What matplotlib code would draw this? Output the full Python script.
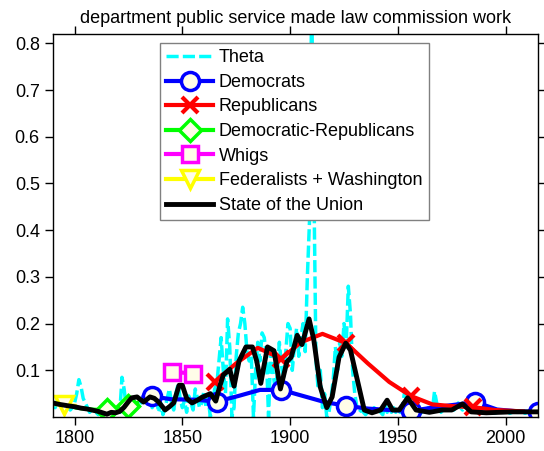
import numpy as np
import matplotlib
matplotlib.use('Agg')
import matplotlib.pyplot as plt

plt.rcParams['font.family'] = ['Liberation Sans', 'DejaVu Sans']

# Theta: yearly values 1790-2015
theta_years = list(range(1790, 2016))
theta = [
    0.03, 0.02, 0.04, 0.035, 0.02, 0.025, 0.03, 0.02, 0.015, 0.02,      # 1790s
    0.03, 0.05, 0.08, 0.065, 0.04, 0.03, 0.02, 0.01, 0.015, 0.01,       # 1800s
    0.01, 0.005, 0.01, 0.015, 0.008, 0.012, 0.01, 0.005, 0.01, 0.015,   # 1810s
    0.02, 0.01, 0.085, 0.06, 0.02, 0.035, 0.03, 0.04, 0.03, 0.035,      # 1820s
    0.04, 0.03, 0.045, 0.05, 0.035, 0.045, 0.02, 0.03, 0.04, 0.01,      # 1830s
    0.03, 0.005, 0.02, 0.04, 0.06, 0.03, 0.015, 0.05, 0.07, 0.04,       # 1840s
    0.02, 0.035, 0.01, 0.045, 0.03, 0.015, 0.06, 0.04, 0.02, 0.03,      # 1850s
    0.055, 0.02, 0.04, 0.0, 0.03, 0.06, 0.07, 0.12, 0.17, 0.1,          # 1860s
    0.05, 0.21, 0.15, 0.0, 0.02, 0.13, 0.18, 0.2, 0.235, 0.2,           # 1870s
    0.14, 0.12, 0.13, 0.0, 0.1, 0.16, 0.12, 0.18, 0.17, 0.13,           # 1880s
    0.0, 0.14, 0.1, 0.06, 0.09, 0.16, 0.11, 0.08, 0.14, 0.2,            # 1890s
    0.19, 0.1, 0.15, 0.19, 0.13, 0.17, 0.2, 0.14, 0.3, 0.42,            # 1900s
    0.9, 0.5, 0.12, 0.06, 0.1, 0.02, 0.05, 0.0, 0.01, 0.04,             # 1910s
    0.08, 0.15, 0.1, 0.16, 0.13, 0.2, 0.15, 0.28, 0.22, 0.1,            # 1920s
    0.05, 0.02, 0.01, 0.015, 0.01, 0.005, 0.01, 0.015, 0.01, 0.02,      # 1930s
    0.01, 0.015, 0.01, 0.005, 0.03, 0.01, 0.015, 0.01, 0.02, 0.01,      # 1940s
    0.015, 0.01, 0.02, 0.05, 0.04, 0.015, 0.01, 0.01, 0.015, 0.01,      # 1950s
    0.005, 0.01, 0.015, 0.01, 0.02, 0.01, 0.015, 0.055, 0.03, 0.02,     # 1960s
    0.01, 0.015, 0.02, 0.01, 0.025, 0.02, 0.015, 0.02, 0.03, 0.02,      # 1970s
    0.015, 0.02, 0.025, 0.02, 0.015, 0.03, 0.02, 0.01, 0.015, 0.02,     # 1980s
    0.01, 0.015, 0.01, 0.012, 0.01, 0.008, 0.01, 0.012, 0.01, 0.01,     # 1990s
    0.012, 0.01, 0.008, 0.01, 0.012, 0.01, 0.01, 0.012, 0.01, 0.008,    # 2000s
    0.01, 0.012, 0.01, 0.01, 0.012, 0.01,                               # 2010s
]

dem_years = [1832, 1836, 1845, 1856, 1866, 1876, 1886, 1896, 1906, 1916,
             1926, 1936, 1946, 1956, 1966, 1976, 1986, 1996, 2006, 2015]
dem = [0.042, 0.044, 0.038, 0.037, 0.033, 0.045, 0.058, 0.058, 0.045, 0.032,
       0.024, 0.018, 0.015, 0.013, 0.02, 0.026, 0.032, 0.016, 0.012, 0.011]

rep_years = [1865, 1875, 1885, 1896, 1905, 1915, 1926, 1936, 1946, 1956,
             1966, 1976, 1985, 1995, 2008]
rep = [0.075, 0.115, 0.148, 0.125, 0.16, 0.178, 0.158, 0.115, 0.075, 0.045,
       0.027, 0.023, 0.021, 0.015, 0.012]

demrep_years = [1801, 1808, 1815, 1820, 1825, 1829]
demrep = [0.02, 0.016, 0.014, 0.016, 0.024, 0.03]

whig_years = [1845, 1855]
whig = [0.097, 0.093]

fed_years = [1790, 1795, 1800]
fed = [0.028, 0.026, 0.024]

sotu_years = [1790, 1793, 1797, 1800, 1803, 1806, 1808, 1811, 1813, 1815,
              1817, 1819, 1821, 1823, 1825, 1826.5, 1829, 1832, 1835, 1837,
              1839, 1842, 1844, 1846, 1848.5, 1850, 1852, 1854.5, 1857, 1859,
              1861, 1863, 1865.5, 1867, 1869, 1872, 1874, 1876.3, 1879.5, 1882.5,
              1884.5, 1886.4, 1889.5, 1892.5, 1895.5, 1898.5, 1900.5, 1903.3, 1905.5, 1908.8,
              1911, 1914, 1917, 1919.5, 1922.7, 1925.8, 1928, 1931, 1934.4, 1938,
              1942, 1945, 1947.5, 1950.6, 1954.5, 1958.4, 1964.6, 1970.6, 1975, 1980,
              1984, 1991, 2003, 2015]
sotu = [0.03, 0.027, 0.024, 0.022, 0.019, 0.017, 0.015, 0.012, 0.009, 0.006,
        0.01, 0.009, 0.012, 0.021, 0.033, 0.041, 0.043, 0.032, 0.043, 0.04,
        0.032, 0.015, 0.022, 0.03, 0.068, 0.068, 0.04, 0.03, 0.036, 0.042,
        0.046, 0.05, 0.034, 0.06, 0.09, 0.102, 0.066, 0.12, 0.15, 0.15,
        0.12, 0.072, 0.15, 0.142, 0.06, 0.118, 0.128, 0.175, 0.155, 0.21,
        0.165, 0.064, 0.02, 0.043, 0.128, 0.158, 0.143, 0.083, 0.015, 0.009,
        0.015, 0.036, 0.015, 0.015, 0.041, 0.015, 0.01, 0.015, 0.015, 0.028,
        0.011, 0.009, 0.011, 0.011]

xticks = [1800, 1850, 1900, 1950, 2000]
yticks = [0.1, 0.2, 0.3, 0.4, 0.5, 0.6, 0.7, 0.8]

face = '#FFFDE8'

fig = plt.figure(figsize=(5.44, 4.51), dpi=100)
ax = fig.add_axes([53/544, 1-417/451, (538-53)/544, (417-34)/451])

ax.plot(theta_years, theta, color='cyan', linestyle='--', lw=2.5, dashes=(3.5, 1.2), label='Theta')
ax.plot(dem_years, dem, color='blue', lw=3, marker='o', ms=13, mew=2.5, mfc=face,
        markevery=(1, 3), label='Democrats')
ax.plot(rep_years, rep, color='red', lw=3, marker='x', ms=11, mew=3,
        markevery=3, label='Republicans')
ax.plot(demrep_years, demrep, color='#00FF00', lw=3, marker='D', ms=11, mew=2.5, mfc=face,
        markevery=[2, 4], label='Democratic-Republicans')
ax.plot(whig_years, whig, color='magenta', lw=3, marker='s', ms=12, mew=2.5, mfc=face,
        label='Whigs')
ax.plot(fed_years, fed, color='yellow', lw=3, marker='v', ms=13, mew=2.5, mfc=face,
        markevery=[1], label='Federalists + Washington')
ax.plot(sotu_years, sotu, color='black', lw=3.5, solid_joinstyle='round',
        label='State of the Union')

ax.set_xlim(1790, 2015)
ax.set_ylim(0, 0.82)
ax.set_xticks(xticks)
ax.set_yticks(yticks)
ax.set_yticklabels(['%.1f' % v for v in yticks])
ax.tick_params(direction='out', length=6, width=1, labelsize=13,
               top=True, right=True, labeltop=False, labelright=False)
for s in ax.spines.values():
    s.set_linewidth(1)
ax.set_title('department public service made law commission work', fontsize=13, pad=8)

leg = ax.legend(loc='upper left', bbox_to_anchor=(160/544, 1-43/451),
                bbox_transform=fig.transFigure, borderaxespad=0,
                fancybox=False, framealpha=1, edgecolor='#808080',
                fontsize=13, handlelength=2.6, handletextpad=0.3,
                labelspacing=0.42, borderpad=0.35)
leg.get_frame().set_linewidth(1)

fig.savefig('out.png', dpi=100)
